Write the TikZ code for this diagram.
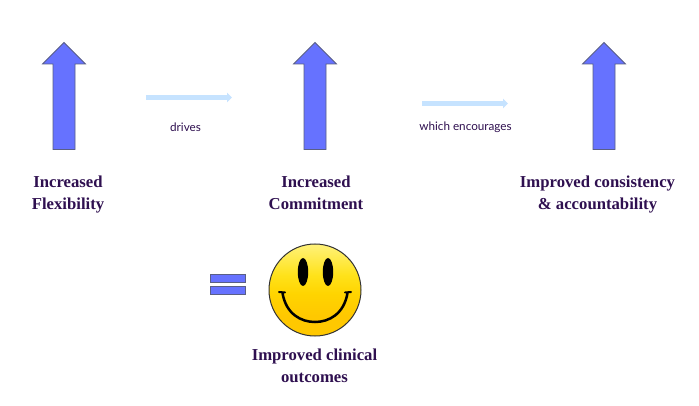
\documentclass[tikz,border=0pt]{standalone}
\usepackage{fontspec}
\setmainfont{Liberation Serif}
\setsansfont{Lato}
\usetikzlibrary{arrows.meta}
\definecolor{ink}{HTML}{2F1050}
\definecolor{blockblue}{HTML}{6672FF}
\definecolor{blockedge}{HTML}{5A5F85}
\definecolor{palearrow}{HTML}{C6E3FF}
\definecolor{smlow}{HTML}{FFC800}
\definecolor{smupper}{HTML}{FFD400}
\definecolor{smmid}{HTML}{FFE21A}
\definecolor{smtop}{HTML}{FFF27A}
\pgfdeclareverticalshading{smileyfill}{100bp}{
  color(0bp)=(smlow);
  color(25bp)=(smlow);
  color(36bp)=(smlow);
  color(48bp)=(smupper);
  color(58bp)=(smmid);
  color(75bp)=(smtop);
  color(100bp)=(smtop)}
\tikzset{
  x=1pt,y=-1pt,
  title/.style={text=ink,font=\rmfamily\bfseries\fontsize{16.7}{22}\selectfont,align=center,inner sep=0pt},
  caption/.style={text=ink,font=\sffamily\fontsize{11.7}{13}\selectfont,inner sep=0pt},
  blockshape/.style={fill=blockblue,draw=blockedge,line width=0.8pt,line join=miter},
  palelink/.style={draw=palearrow,line width=5.2pt,-{Triangle[length=5pt,width=9.5pt]}},
  eye/.style={fill=black,draw=none}
}
\newcommand{\uparrowblock}[1]{%
  \draw[blockshape] (#1,42.5) -- (#1+21.5,64) -- (#1+11,64) -- (#1+11,149.5) -- (#1-11,149.5) -- (#1-11,64) -- (#1-21.5,64) -- cycle;}
\begin{document}
\begin{tikzpicture}
\useasboundingbox (0,0) rectangle (699,406);
\fill[white] (0,0) rectangle (699,406);
\uparrowblock{64}
\uparrowblock{315}
\uparrowblock{604}
\coordinate (l1a) at (146,97.5); \coordinate (l1b) at (232,97.5);
\coordinate (l2a) at (422,103.5); \coordinate (l2b) at (508,103.5);
\draw[palelink] (l1a) -- (l1b);
\draw[palelink] (l2a) -- (l2b);
\node[caption] (drives) at (185.5,127.5) {drives};
\node[caption] (encourages) at (465.5,127.5) {which encourages};
\node[title] (t1) at (68,195) {Increased\\Flexibility};
\node[title] (t2) at (316,192.5) {Increased\\Commitment};
\node[title] (t3) at (597.5,195) {Improved consistency\\\& accountability};
\node[title] (t4) at (314.5,365.5) {Improved clinical\\outcomes};
\draw[blockshape] (210.5,274.5) rectangle (245.5,282.5);
\draw[blockshape] (210.5,286) rectangle (245.5,294);
\path[shading=smileyfill] (315,290) circle (46);
\draw[black!80,line width=1pt] (315,290) circle (46);
\fill[eye] (303,272) ellipse (5.2 and 14);
\fill[eye] (328,272) ellipse (5.2 and 14);
\draw[black,line width=2.5pt,line cap=round] (282.5,293) .. controls (286,314) and (301,322) .. (315,322) .. controls (329,322) and (344,314) .. (347.5,293);
\draw[black,line width=2pt,line cap=round] (279,292) -- (285,292.5);
\draw[black,line width=2pt,line cap=round] (345,292.5) -- (351,292);
\end{tikzpicture}
\end{document}
